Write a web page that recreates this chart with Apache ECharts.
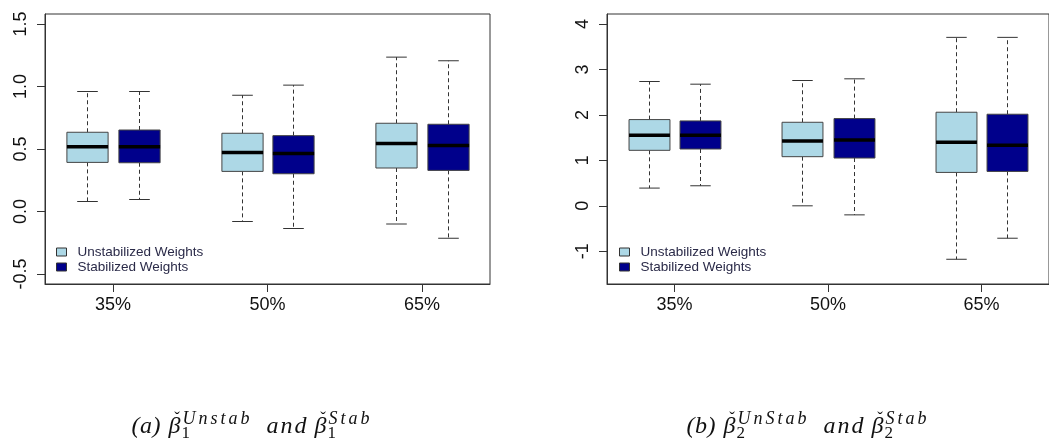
<!DOCTYPE html>
<html>
<head>
<meta charset="utf-8">
<script src="https://cdn.jsdelivr.net/npm/echarts@6/dist/echarts.min.js"></script>
<style>
  html, body { margin: 0; padding: 0; background: #fff; }
  #chart { width: 1049px; height: 445px; }
</style>
</head>
<body>
<div id="chart"></div>
<script>
// ---- data ----------------------------------------------------------------
const categories = ['35%', '50%', '65%'];
const seriesNames = ['Unstabilized Weights', 'Stabilized Weights'];

// each box: [lower whisker, Q1, median, Q3, upper whisker]
const beta1Unstab = [
  [0.08, 0.393, 0.519, 0.634, 0.96],
  [-0.08, 0.321, 0.473, 0.626, 0.93],
  [-0.10, 0.348, 0.545, 0.706, 1.235]
];
const beta1Stab = [
  [0.096, 0.39, 0.519, 0.652, 0.96],
  [-0.136, 0.302, 0.465, 0.607, 1.011],
  [-0.214, 0.329, 0.529, 0.698, 1.206]
];
const beta2Unstab = [
  [0.39, 1.221, 1.551, 1.897, 2.735],
  [0.0, 1.081, 1.426, 1.838, 2.757],
  [-1.176, 0.735, 1.397, 2.059, 3.706]
];
const beta2Stab = [
  [0.441, 1.25, 1.551, 1.868, 2.676],
  [-0.199, 1.051, 1.449, 1.919, 2.794],
  [-0.713, 0.757, 1.331, 2.015, 3.706]
];

const yTicks1 = [-0.5, 0.0, 0.5, 1.0, 1.5];
const yTicks2 = [-1, 0, 1, 2, 3, 4];

// ---- styling ---------------------------------------------------------------
const COLORS = ['#ADD8E6', '#00008B'];
const SANS = "'Liberation Sans', Arial, sans-serif";
const SERIF = "'Liberation Serif', 'Times New Roman', serif";
const BOX_WIDTH = 0.8;          // in x units (boxes sit at 1,2 / 4,5 / 7,8)
const X_MIN = 0.18, X_MAX = 8.82;
const groupPos = categories.map((c, i) => i * 3 + 1.5);

function boxPos(groupIdx, seriesIdx) { return groupIdx * 3 + 1 + seriesIdx; }

function renderBox(params, api) {
  const x = api.value(0);
  const lo = api.coord([x, api.value(1)]);
  const q1 = api.coord([x, api.value(2)]);
  const med = api.coord([x, api.value(3)]);
  const q3 = api.coord([x, api.value(4)]);
  const hi = api.coord([x, api.value(5)]);
  const halfW = api.size([BOX_WIDTH, 0])[0] / 2;
  const capHalf = halfW * 0.5;
  const cx = Math.round(lo[0]) + 0.5;
  const whisker = { stroke: '#333', lineWidth: 1, lineDash: [4, 3] };
  const solid = { stroke: '#333', lineWidth: 1 };
  return {
    type: 'group',
    children: [
      { type: 'line', shape: { x1: cx, y1: q3[1], x2: cx, y2: hi[1] }, style: whisker },
      { type: 'line', shape: { x1: cx, y1: q1[1], x2: cx, y2: lo[1] }, style: whisker },
      { type: 'line', shape: { x1: cx - capHalf, y1: hi[1], x2: cx + capHalf, y2: hi[1] }, style: solid },
      { type: 'line', shape: { x1: cx - capHalf, y1: lo[1], x2: cx + capHalf, y2: lo[1] }, style: solid },
      { type: 'rect', shape: { x: cx - halfW, y: q3[1], width: 2 * halfW, height: q1[1] - q3[1] },
        style: { fill: api.visual('color'), stroke: '#444', lineWidth: 1 } },
      { type: 'line', shape: { x1: cx - halfW, y1: med[1], x2: cx + halfW, y2: med[1] },
        style: { stroke: '#000', lineWidth: 3.5 } }
    ]
  };
}

function boxSeries(name, stats, seriesIdx, axisIdx) {
  return {
    type: 'custom',
    name: name,
    xAxisIndex: axisIdx,
    yAxisIndex: axisIdx,
    renderItem: renderBox,
    itemStyle: { color: COLORS[seriesIdx], borderColor: '#333', borderWidth: 1 },
    encode: { x: 0, y: [1, 2, 3, 4, 5] },
    data: stats.map((s, g) => [boxPos(g, seriesIdx)].concat(s))
  };
}

const grids = [
  { left: 45, top: 14, width: 445, height: 270 },
  { left: 607, top: 14, width: 446, height: 270 }
];

function xAxisFor(i) {
  return {
    type: 'value', gridIndex: i, min: X_MIN, max: X_MAX,
    axisLine: { show: true, onZero: false, lineStyle: { color: '#333', width: 1 } },
    splitLine: { show: false },
    axisTick: { show: true, length: 8, customValues: groupPos, lineStyle: { color: '#333' } },
    axisLabel: {
      customValues: groupPos, margin: 12, fontSize: 18, color: '#111', fontFamily: SANS,
      formatter: v => categories[groupPos.indexOf(v)]
    }
  };
}

function yAxisFor(i, min, max, ticks, fmt) {
  return {
    type: 'value', gridIndex: i, min: min, max: max,
    axisLine: { show: true, onZero: false, lineStyle: { color: '#333', width: 1 } },
    splitLine: { show: false },
    axisTick: { show: true, length: 8, customValues: ticks, lineStyle: { color: '#333' } },
    axisLabel: {
      customValues: ticks, rotate: 90, margin: 15, fontSize: 18, color: '#111', fontFamily: SANS,
      formatter: fmt
    }
  };
}

function legendFor(left) {
  return {
    data: seriesNames, orient: 'vertical', left: left, top: 245, padding: 0,
    icon: 'rect', itemWidth: 10, itemHeight: 8, itemGap: 1,
    selectedMode: false,
    itemStyle: { borderColor: '#333', borderWidth: 1 },
    textStyle: { fontSize: 13.5, lineHeight: 14, color: '#2a2a48', fontFamily: SANS, padding: [0, 0, 0, 6] }
  };
}

// ---- captions (math-style text laid out piece by piece) ---------------------
const measureCtx = document.createElement('canvas').getContext('2d');
function fontStr(size, italic) { return (italic ? 'italic ' : '') + size + 'px ' + SERIF; }
function charW(ch, size, italic) { measureCtx.font = fontStr(size, italic); return measureCtx.measureText(ch).width; }
function runWidth(s, size, italic, sp) {
  let w = 0; for (const ch of s) w += charW(ch, size, italic) + sp; return w - sp;
}
function runEls(s, size, italic, sp, x, baseline, out) {
  for (const ch of s) {
    out.push({ type: 'text', x: x, y: baseline - size * 0.3, silent: true,
      style: { text: ch, fontSize: size, fontFamily: SERIF, fontStyle: italic ? 'italic' : 'normal',
               fill: '#111', verticalAlign: 'middle', align: 'left' } });
    x += charW(ch, size, italic) + sp;
  }
}

const MAIN = 24, SCRIPT = 18, SUB = 17, MAIN_SP = 2, SCRIPT_SP = 3;
function captionTokens(label, idx, supText) {
  return [
    { s: '(' + label + ')', size: MAIN, it: true, sp: 0.5 },
    { gap: 8 },
    { beta: true },
    { sup: supText, sub: String(idx) },
    { gap: 18 },
    { s: 'and', size: MAIN, it: true, sp: MAIN_SP },
    { gap: 8 },
    { beta: true },
    { sup: 'Stab', sub: String(idx) }
  ];
}
function tokenWidth(t) {
  if (t.gap) return t.gap;
  if (t.beta) return charW('β', MAIN, true) + 1;
  if (t.sup) return Math.max(runWidth(t.sup, SCRIPT, true, SCRIPT_SP), runWidth(t.sub, SUB, false, 0));
  return runWidth(t.s, t.size, t.it, t.sp);
}
function captionEls(tokens, cx, baseline) {
  const out = [];
  let x = cx - tokens.reduce((a, t) => a + tokenWidth(t), 0) / 2;
  tokens.forEach(t => {
    const w = tokenWidth(t);
    if (t.beta) {
      runEls('β', MAIN, true, 0, x, baseline, out);
      out.push({ type: 'text', x: x + w / 2 + 2, y: baseline - 15, silent: true,
        style: { text: 'ˇ', fontSize: 17, fontFamily: SERIF, fill: '#111', align: 'center', verticalAlign: 'middle' } });
    } else if (t.sup) {
      runEls(t.sup, SCRIPT, true, SCRIPT_SP, x + 1, baseline - 9, out);
      runEls(t.sub, SUB, false, 0, x, baseline + 5, out);
    } else if (t.s) {
      runEls(t.s, t.size, t.it, t.sp, x, baseline, out);
    }
    x += w;
  });
  return out;
}

const captionA = captionTokens('a', 1, 'Unstab');
const captionB = captionTokens('b', 2, 'UnStab');

// ---- chart -----------------------------------------------------------------
const chart = echarts.init(document.getElementById('chart'), null, { renderer: 'canvas' });
chart.setOption({
  animation: false,
  backgroundColor: '#fff',
  grid: grids.map(g => Object.assign({ show: true, borderColor: '#333', borderWidth: 1, backgroundColor: 'transparent' }, g)),
  xAxis: [xAxisFor(0), xAxisFor(1)],
  yAxis: [
    yAxisFor(0, -0.58, 1.58, yTicks1, v => v.toFixed(1)),
    yAxisFor(1, -1.72, 4.22, yTicks2, v => String(Math.round(v)))
  ],
  legend: [legendFor(56), legendFor(619)],
  series: [
    boxSeries(seriesNames[0], beta1Unstab, 0, 0),
    boxSeries(seriesNames[1], beta1Stab, 1, 0),
    boxSeries(seriesNames[0], beta2Unstab, 0, 1),
    boxSeries(seriesNames[1], beta2Stab, 1, 1)
  ],
  graphic: { elements: captionEls(captionA, 250, 434).concat(captionEls(captionB, 806, 434)) }
});
</script>
</body>
</html>
